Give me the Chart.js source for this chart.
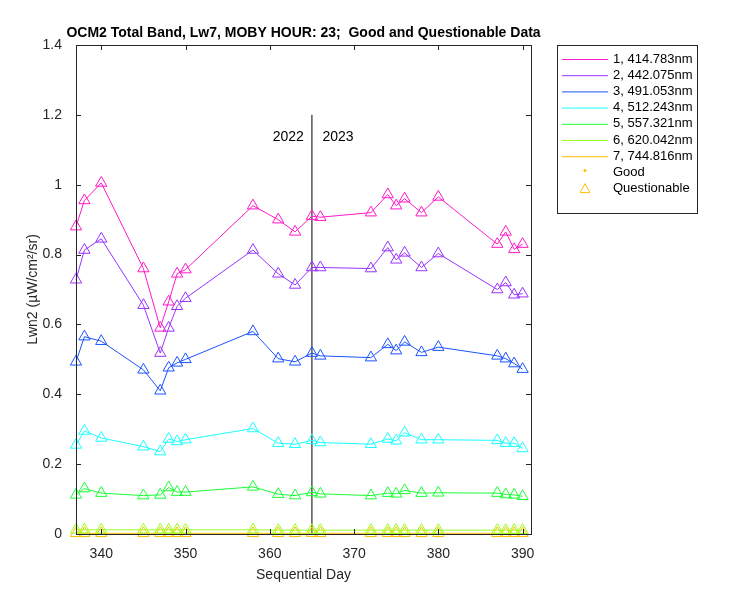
<!DOCTYPE html>
<html><head><meta charset="utf-8">
<script src="https://cdn.jsdelivr.net/npm/chart.js@4"></script>
<style>body{margin:0;background:#fff}#w{width:750px;height:600px}</style>
</head><body><div id="w"><canvas id="c"></canvas></div>
<script>
const days=[337,338,340,345,347,348,349,350,358,361,363,365,366,372,374,375,376,378,380,387,388,389,390];
const s1=[0.88,0.955,1.005,0.76,0.59,0.665,0.745,0.757,0.94,0.90,0.865,0.91,0.907,0.92,0.972,0.94,0.96,0.92,0.965,0.83,0.865,0.815,0.83];
const s2=[0.728,0.813,0.845,0.655,0.518,0.59,0.652,0.675,0.813,0.745,0.713,0.763,0.763,0.76,0.82,0.785,0.805,0.763,0.803,0.70,0.72,0.685,0.688];
const s3=[0.493,0.565,0.552,0.47,0.41,0.476,0.49,0.5,0.58,0.502,0.493,0.518,0.51,0.505,0.543,0.525,0.55,0.52,0.535,0.51,0.502,0.488,0.472];
const s4=[0.255,0.295,0.275,0.25,0.236,0.272,0.265,0.27,0.302,0.26,0.257,0.268,0.262,0.257,0.272,0.267,0.29,0.27,0.27,0.268,0.26,0.26,0.245];
const s5=[0.112,0.13,0.117,0.11,0.112,0.133,0.12,0.12,0.135,0.114,0.11,0.119,0.115,0.11,0.117,0.115,0.125,0.117,0.118,0.117,0.113,0.112,0.108];
const s6=[0.012,0.012,0.012,0.012,0.012,0.012,0.012,0.012,0.012,0.011,0.011,0.011,0.011,0.011,0.011,0.011,0.011,0.011,0.011,0.011,0.011,0.011,0.011];
const s7=[0.002,0.002,0.002,0.002,0.002,0.002,0.002,0.002,0.002,0.002,0.002,0.002,0.002,0.002,0.002,0.002,0.002,0.002,0.002,0.002,0.002,0.002,0.002];
const names=['1, 414.783nm','2, 442.075nm','3, 491.053nm','4, 512.243nm','5, 557.321nm','6, 620.042nm','7, 744.816nm'];
const colors=['#ff19c8','#9933ff','#1a53ff','#19ffff','#19ff33','#99ff19','#ffbf00'];
const series=[s1,s2,s3,s4,s5,s6,s7];
const yTicks=[0,0.2,0.4,0.6,0.8,1,1.2,1.4];
const xTicks=[340,350,360,370,380,390];
const F='Arial, "Liberation Sans", sans-serif';
const ds=series.map((s,i)=>({data:s.map((v,j)=>({x:days[j],y:v})),borderColor:colors[i],backgroundColor:'rgba(0,0,0,0)',borderWidth:1,pointStyle:'triangle',pointRadius:6.5,pointBorderColor:colors[i],pointBorderWidth:1,tension:0,clip:false}));
ds.push({data:[{x:365,y:0},{x:365,y:1.2}],borderColor:'#000',borderWidth:1,pointRadius:0});
const deco={id:'deco',afterDraw(ch){const c=ch.ctx,a=ch.chartArea,x=ch.scales.x,y=ch.scales.y;c.save();
c.strokeStyle='#262626';c.lineWidth=1;c.strokeRect(a.left+.5,a.top+.5,a.right-a.left,a.bottom-a.top);
c.beginPath();xTicks.forEach(t=>{const p=Math.round(x.getPixelForValue(t))+.5;c.moveTo(p,a.bottom);c.lineTo(p,a.bottom-5);c.moveTo(p,a.top);c.lineTo(p,a.top+5);});
yTicks.forEach(t=>{const p=Math.round(y.getPixelForValue(t))+.5;c.moveTo(a.left,p);c.lineTo(a.left+5,p);c.moveTo(a.right,p);c.lineTo(a.right-5,p);});c.stroke();
c.fillStyle='#000';c.font='bold 14px '+F;c.textAlign='center';c.textBaseline='middle';
c.fillText('OCM2 Total Band, Lw7, MOBY HOUR: 23;  Good and Questionable Data',(a.left+a.right)/2,33);
c.font='14px '+F;c.fillStyle='#000';
c.fillText('2022',x.getPixelForValue(362.2),137);c.fillText('2023',x.getPixelForValue(368.1),137);
c.fillStyle='#262626';c.fillText('Sequential Day',(a.left+a.right)/2,575);
c.save();c.translate(33,(a.top+a.bottom)/2);c.rotate(-Math.PI/2);c.fillText('Lwn2 (µW/cm²/sr)',0,0);c.restore();
const L=557,T=45,W=140,H=168;c.fillStyle='#fff';c.fillRect(L,T,W,H);c.strokeStyle='#262626';c.strokeRect(L+.5,T+.5,W,H);
c.font='13px '+F;c.textAlign='left';
for(let i=0;i<7;i++){const yp=T+14+i*16.2;c.strokeStyle=colors[i];c.beginPath();c.moveTo(L+5,yp+.5);c.lineTo(L+51,yp+.5);c.stroke();c.fillStyle='#000';c.fillText(names[i],L+56,yp);}
let yp=T+14+7*16.2;c.fillStyle='#ffbf00';c.beginPath();c.arc(L+28,yp-2,1.5,0,7);c.fill();c.fillStyle='#000';c.fillText('Good',L+56,yp);
yp+=16.2;c.strokeStyle='#ffbf00';c.beginPath();c.moveTo(L+28,yp-5);c.lineTo(L+33,yp+4);c.lineTo(L+23,yp+4);c.closePath();c.stroke();c.fillStyle='#000';c.fillText('Questionable',L+56,yp);
c.restore();}};
new Chart(document.getElementById('c'),{type:'line',data:{datasets:ds},plugins:[deco],
options:{responsive:true,maintainAspectRatio:false,animation:false,events:[],
layout:{padding:{left:0,right:219,top:45,bottom:0}},
plugins:{legend:{display:false},tooltip:{enabled:false}},
scales:{x:{type:'linear',min:337,max:391,afterBuildTicks:s=>{s.ticks=xTicks.map(v=>({value:v}))},afterFit:s=>{s.height=66},
grid:{display:false},border:{display:false},ticks:{color:'#262626',font:{size:14,family:F},padding:4}},
y:{min:0,max:1.4,afterBuildTicks:s=>{s.ticks=yTicks.map(v=>({value:v}))},afterFit:s=>{s.width=76},
grid:{display:false},border:{display:false},ticks:{color:'#262626',font:{size:14,family:F},padding:6,callback:v=>String(Math.round(v*10)/10)}}}}});
</script></body></html>
